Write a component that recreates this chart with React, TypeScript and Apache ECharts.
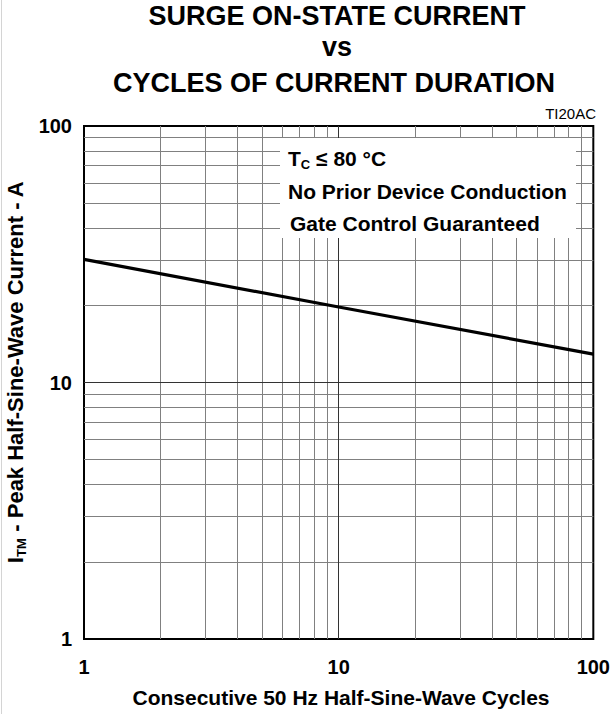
import React, { useEffect, useRef } from 'react';
import * as echarts from 'echarts';

const cycles = [1, 10, 100];
const current = [30.2, 19.7, 12.9];
const minorGrid = [2, 3, 4, 5, 6, 7, 8, 9, 20, 30, 40, 50, 60, 70, 80, 90];
const majorGrid = [10];
const titleLines = ['SURGE ON-STATE CURRENT', 'vs', 'CYCLES OF CURRENT DURATION'];
const noteLines = ['No Prior Device Conduction', 'Gate Control Guaranteed'];

const FONT = "'Liberation Sans', Arial, Helvetica, sans-serif";

export default function App() {
  const ref = useRef<HTMLDivElement>(null);
  useEffect(() => {
    if (!ref.current) return;
    const chart = echarts.init(ref.current, undefined, { renderer: 'svg' });
    const minorStyle = { color: '#808080', width: 1, type: 'solid' };
    const majorStyle = { color: '#333', width: 1, type: 'solid' };
    const gridLines: any[] = [];
    minorGrid.forEach((v) => {
      gridLines.push({ xAxis: v, lineStyle: minorStyle });
      gridLines.push({ yAxis: v, lineStyle: minorStyle });
    });
    majorGrid.forEach((v) => {
      gridLines.push({ xAxis: v, lineStyle: majorStyle });
      gridLines.push({ yAxis: v, lineStyle: majorStyle });
    });
    const textBase = { fontFamily: FONT, fontWeight: 'bold', fill: '#000' };
    chart.setOption({
      animation: false,
      backgroundColor: '#fff',
      grid: {
        left: 84,
        top: 126,
        width: 512,
        height: 513,
        show: true,
        borderColor: '#000',
        borderWidth: 2,
        backgroundColor: 'transparent',
      },
      xAxis: {
        type: 'log',
        logBase: 10,
        min: 1,
        max: 100,
        axisLine: { show: false },
        axisTick: { show: false },
        splitLine: { show: false },
        axisLabel: {
          fontSize: 20,
          fontWeight: 'bold',
          color: '#000',
          fontFamily: FONT,
          margin: 18,
        },
      },
      yAxis: {
        type: 'log',
        logBase: 10,
        min: 1,
        max: 100,
        axisLine: { show: false },
        axisTick: { show: false },
        splitLine: { show: false },
        axisLabel: {
          fontSize: 20,
          fontWeight: 'bold',
          color: '#000',
          fontFamily: FONT,
          margin: 12,
        },
      },
      series: [
        {
          type: 'line',
          data: [],
          z: 1,
          markLine: {
            silent: true,
            symbol: ['none', 'none'],
            label: { show: false },
            animation: false,
            data: gridLines,
          },
        },
        {
          type: 'line',
          z: 5,
          data: cycles.map((c, i) => [c, current[i]]),
          symbol: 'none',
          lineStyle: { color: '#000', width: 3.2 },
        },
      ],
      graphic: [
        { type: 'line', z: 0, shape: { x1: 1.5, y1: 0, x2: 1.5, y2: 714 }, style: { stroke: '#d4d4d4', lineWidth: 1 } },
        { type: 'text', x: 337, y: 15, scaleY: 1.05, style: { ...textBase, text: titleLines[0], fontSize: 27, align: 'center', verticalAlign: 'middle' } },
        { type: 'text', x: 337, y: 46, scaleY: 1.05, style: { ...textBase, text: titleLines[1], fontSize: 27, align: 'center', verticalAlign: 'middle' } },
        { type: 'text', x: 334, y: 82, scaleY: 1.05, style: { ...textBase, text: titleLines[2], fontSize: 27, align: 'center', verticalAlign: 'middle' } },
        { type: 'text', x: 596, y: 113, style: { fontFamily: FONT, fill: '#000', text: 'TI20AC', fontSize: 15, align: 'right', verticalAlign: 'middle' } },
        { type: 'rect', z: 50, shape: { x: 280, y: 138, width: 296, height: 100 }, style: { fill: '#fff' } },
        {
          type: 'text', z: 51, x: 288, y: 158,
          style: {
            ...textBase,
            text: '{m|T}{s|C}{m| ≤ 80 °C}',
            align: 'left', verticalAlign: 'middle',
            rich: {
              m: { fontFamily: FONT, fontWeight: 'bold', fontSize: 21, fill: '#000' },
              s: { fontFamily: FONT, fontWeight: 'bold', fontSize: 13, fill: '#000', padding: [12, 0, 0, 0] },
            },
          },
        },
        { type: 'text', z: 51, x: 288, y: 191, style: { ...textBase, text: noteLines[0], fontSize: 21, align: 'left', verticalAlign: 'middle' } },
        { type: 'text', z: 51, x: 290, y: 223, style: { ...textBase, text: noteLines[1], fontSize: 21, align: 'left', verticalAlign: 'middle' } },
        { type: 'text', x: 341, y: 697, style: { ...textBase, text: 'Consecutive 50 Hz Half-Sine-Wave Cycles', fontSize: 21, align: 'center', verticalAlign: 'middle' } },
        {
          type: 'text', x: 15, y: 372, rotation: Math.PI / 2,
          style: {
            ...textBase,
            text: '{m|I}{s|TM}{m| - Peak Half-Sine-Wave Current - A}',
            align: 'center', verticalAlign: 'middle',
            rich: {
              m: { fontFamily: FONT, fontWeight: 'bold', fontSize: 22, fill: '#000' },
              s: { fontFamily: FONT, fontWeight: 'bold', fontSize: 13, fill: '#000', padding: [12, 0, 0, 0] },
            },
          },
        },
      ],
    });
    return () => chart.dispose();
  }, []);
  return <div ref={ref} style={{ position: 'fixed', left: 0, top: 0, width: 613, height: 714 }} />;
}
